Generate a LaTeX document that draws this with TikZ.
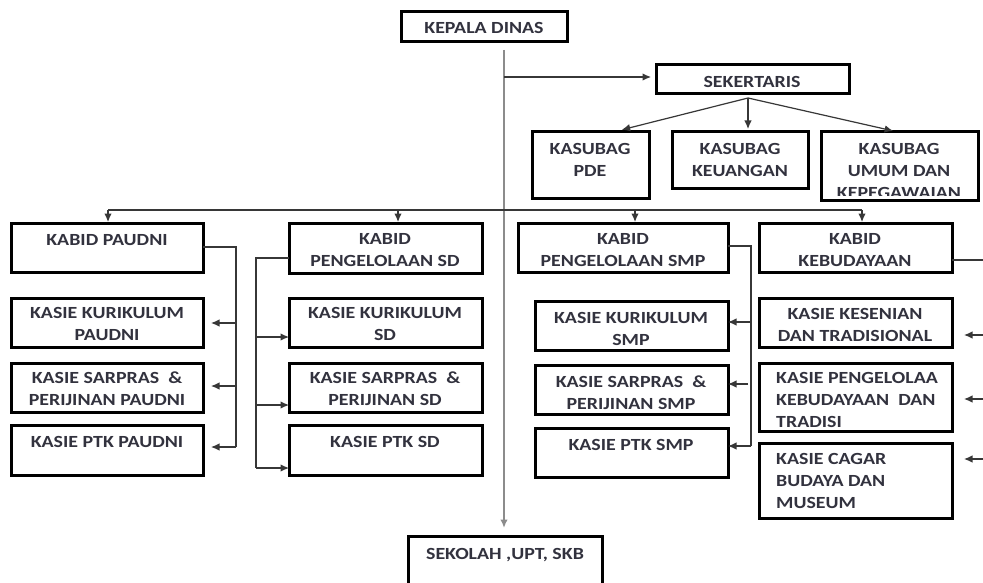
\documentclass[tikz,border=0pt]{standalone}
\usepackage{fontspec}
\setmainfont{Carlito}[FakeStretch=1.17]
\usetikzlibrary{arrows.meta}
\definecolor{txt}{RGB}{50,50,62}
\definecolor{conn}{RGB}{55,55,55}
\definecolor{trunkc}{RGB}{140,140,140}
\newcommand\obox[5]{\node[boxst, anchor=north west, minimum width={#4pt-#2pt}, minimum height={#5pt-#3pt}] (#1) at (#2,#3) {};}
\begin{document}
\begin{tikzpicture}[x=1pt,y=-1pt,
  boxst/.style={draw=black, line width=3pt, fill=white, inner sep=0pt, outer sep=0pt},
  lbl/.style={font=\fontsize{17}{22}\selectfont\bfseries, text=txt, inner sep=0pt, align=center, anchor=north},
  lbll/.style={lbl, align=left, anchor=north west},
  link/.style={draw=conn, line width=1.2pt},
  arr/.style={link, -{Latex[length=8.5pt,width=7.5pt]}},
  trunk/.style={draw=trunkc, line width=2pt},
]
\clip (0,0) rectangle (983,583);
\fill[white] (0,0) rectangle (983,583);

% top
\obox{kepala}{401}{12}{567}{42}
\node[lbl] (kepala-t) at (484,22) {KEPALA DINAS};
\obox{sek}{656}{65}{849}{94}
\node[lbl] (sek-t) at (752,76) {SEKERTARIS};

\obox{pde}{532}{132}{649}{198}
\node[lbl] (pde-t) at (590,143) {KASUBAG\\PDE};
\obox{keu}{672}{132}{808}{189}
\node[lbl] (keu-t) at (740,143) {KASUBAG\\KEUANGAN};
\obox{umum}{821}{132}{978}{200}
\begin{scope}
\clip (821,132) rectangle (978,195);
\node[lbl] (umum-t) at (899,143) {KASUBAG\\UMUM DAN\\KEPEGAWAIAN};
\end{scope}

% PAUDNI column
\obox{kbp}{11}{223}{203}{272}
\node[lbl] (kbp-t) at (107,234) {KABID PAUDNI};
\obox{kkp}{11}{298}{203}{347}
\node[lbl] (kkp-t) at (107,307) {KASIE KURIKULUM\\PAUDNI};
\obox{ksp}{11}{363}{203}{412}
\node[lbl] (ksp-t) at (107,372) {KASIE SARPRAS\ \ \&\\PERIJINAN PAUDNI};
\obox{kpp}{11}{425}{203}{475}
\node[lbl] (kpp-t) at (107,436) {KASIE PTK PAUDNI};

% SD column
\obox{kbs}{289}{223}{482}{273}
\node[lbl] (kbs-t) at (385,233) {KABID\\PENGELOLAAN SD};
\obox{kks}{289}{298}{482}{347}
\node[lbl] (kks-t) at (385,307) {KASIE KURIKULUM\\SD};
\obox{kss}{289}{363}{482}{412}
\node[lbl] (kss-t) at (385,372) {KASIE SARPRAS\ \ \&\\PERIJINAN SD};
\obox{kps}{289}{425}{482}{475}
\node[lbl] (kps-t) at (385,436) {KASIE PTK SD};

% SMP column
\obox{kbm}{518}{223}{728}{272}
\node[lbl] (kbm-t) at (623,233) {KABID\\PENGELOLAAN SMP};
\obox{kkm}{535}{301}{728}{350}
\node[lbl] (kkm-t) at (631,312) {KASIE KURIKULUM\\SMP};
\obox{ksm}{535}{365}{728}{414}
\node[lbl] (ksm-t) at (631,376) {KASIE SARPRAS\ \ \&\\PERIJINAN SMP};
\obox{kpm}{535}{428}{728}{477}
\node[lbl] (kpm-t) at (631,439) {KASIE PTK SMP};

% KEBUDAYAAN column
\obox{kbk}{759}{223}{952}{272}
\node[lbl] (kbk-t) at (855,233) {KABID\\KEBUDAYAAN};
\obox{kes}{759}{298}{952}{347}
\node[lbl] (kes-t) at (855,308) {KASIE KESENIAN\\DAN TRADISIONAL};
\obox{kpk}{759}{363}{952}{431}
\node[lbll] (kpk-t) at (776,372) {KASIE PENGELOLAA\\KEBUDAYAAN\ \ DAN\\TRADISI};
\obox{kcg}{759}{443}{952}{518}
\node[lbll] (kcg-t) at (776,453) {KASIE CAGAR\\BUDAYA DAN\\MUSEUM};

% bottom
\obox{skl}{408}{536}{602}{600}
\node[lbl] (skl-t) at (505,548) {SEKOLAH ,UPT, SKB};

% coordinates
\coordinate (ttop) at (504,50);
\coordinate (tbot) at (504,536);
\coordinate (tsek) at (504,77);
\coordinate (sekb) at (748,98);
\coordinate (hl) at (108,210);
\coordinate (hr) at (862,210);
\coordinate (pj) at (236,247);
\coordinate (sj) at (256,258);
\coordinate (mj) at (751,246);
\coordinate (kedge) at (983,260);

% trunk
\draw[trunk, -{Latex[length=8.5pt,width=7.5pt]}, shorten >=8pt] (ttop) -- (tbot);
\draw[arr, shorten >=5pt] (tsek) -- (tsek -| sek.west);

% sekertaris branches
\draw[arr, shorten >=9pt] (sekb) -- (613,132) coordinate (pdetop);
\draw[arr, shorten >=3pt] (sekb) -- (sekb |- keu.north);
\draw[arr, shorten >=5pt] (sekb) -- (898,132) coordinate (umtop);

% kabid bus
\draw[link] (hl) -- (hr);
\draw[arr, shorten >=1pt] (hl) -- (hl |- kbp.north);
\draw[arr, shorten >=1pt] (398,210) coordinate (bs) -- (bs |- kbs.north);
\draw[arr, shorten >=1pt] (635,210) coordinate (bm) -- (bm |- kbm.north);
\draw[arr, shorten >=1pt] (hr) -- (hr |- kbk.north);

% PAUDNI connectors
\draw[link] (kbp.east |- pj) -- (pj) -- (236,447) coordinate (pe);
\draw[arr, shorten >=8pt] (236,323) coordinate (p1) -- (p1 -| kkp.east);
\draw[arr, shorten >=8pt] (236,386) coordinate (p2) -- (p2 -| ksp.east);
\draw[arr, shorten >=8pt] (pe) -- (pe -| kpp.east);

% SD connectors
\draw[link] (kbs.west |- sj) -- (sj) -- (256,468) coordinate (se);
\draw[arr] (256,337) coordinate (s1) -- (s1 -| kks.west);
\draw[arr] (256,405) coordinate (s2) -- (s2 -| kss.west);
\draw[arr] (se) -- (se -| kps.west);

% SMP connectors
\draw[link] (kbm.east |- mj) -- (mj) -- (751,446) coordinate (me);
\draw[arr] (751,322) coordinate (m1) -- (m1 -| kkm.east);
\draw[arr, shorten <=3pt] (751,384) coordinate (m2) -- (m2 -| ksm.east);
\draw[arr] (me) -- (me -| kpm.east);

% KEBUDAYAAN connectors
\draw[link] (kbk.east |- kedge) -- (kedge);
\draw[arr, shorten >=12pt] (983,335) coordinate (k1) -- (k1 -| kes.east);
\draw[arr, shorten >=12pt] (983,399) coordinate (k2) -- (k2 -| kpk.east);
\draw[arr, shorten >=12pt] (983,459) coordinate (k3) -- (k3 -| kcg.east);
\end{tikzpicture}
\end{document}
